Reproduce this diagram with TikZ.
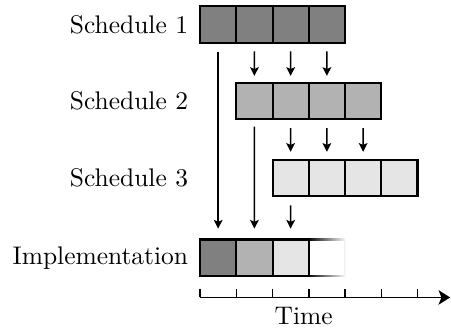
\documentclass[tikz,border=0pt]{standalone}
\usetikzlibrary{arrows.meta,positioning,fadings}

\begin{document}
\begin{tikzpicture}
  [zelle/.style={rectangle, minimum size=5mm, inner sep=0pt, outer sep=0pt, thick, draw=black},
  plan1/.style={zelle, fill=black!50},
  plan2/.style={zelle, fill=black!30},
  plan3/.style={zelle, fill=black!10},
  beschr/.style={anchor=east, xshift=-0.4mm},
  pfeil/.style={semithick, -{Stealth[length=1.2mm, width=1.2mm, inset=0.25mm]}}]
  \useasboundingbox (-2.759,-0.997) rectangle (3.462,3.554);
  % schedule 1
  \node (s1-1) [plan1] at (0.25,3.215) {};
  \node (s1-2) [plan1, right=0pt of s1-1] {};
  \node (s1-3) [plan1, right=0pt of s1-2] {};
  \node (s1-4) [plan1, right=0pt of s1-3] {};
  \node (l1) [beschr] at (s1-1.west) {Schedule 1};
  % schedule 2
  \node (s2-1) [plan2] at (0.75,2.157) {};
  \node (s2-2) [plan2, right=0pt of s2-1] {};
  \node (s2-3) [plan2, right=0pt of s2-2] {};
  \node (s2-4) [plan2, right=0pt of s2-3] {};
  \node (l2) [beschr] at (s1-1.west |- s2-1) {Schedule 2};
  % schedule 3
  \node (s3-1) [plan3] at (1.25,1.10) {};
  \node (s3-2) [plan3, right=0pt of s3-1] {};
  \node (s3-3) [plan3, right=0pt of s3-2] {};
  \node (s3-4) [plan3, right=0pt of s3-3] {};
  \node (l3) [beschr] at (s1-1.west |- s3-1) {Schedule 3};
  % implementation
  \node (imp-1) [plan1] at (0.25,0) {};
  \node (imp-2) [plan2, right=0pt of imp-1] {};
  \node (imp-3) [plan3, right=0pt of imp-2] {};
  \node (imp-4) [zelle, draw=none, right=0pt of imp-3] {};
  \draw [thick, path fading=east] (imp-4.south west) rectangle (imp-4.north east);
  \node (l4) [beschr] at (imp-1.west) {Implementation};
  % arrows
  \draw [pfeil, shorten <=1.3mm, shorten >=1.5mm] (s1-1.south) -- (imp-1.north);
  \draw [pfeil, shorten <=1mm, shorten >=1.5mm] (s2-1.south) -- (imp-2.north);
  \draw [pfeil, shorten <=1.3mm, shorten >=1.5mm] (s3-1.south) -- (imp-3.north);
  \draw [pfeil, shorten <=1.2mm, shorten >=1mm] (s1-2.south) -- (s2-1.north);
  \draw [pfeil, shorten <=1.2mm, shorten >=1mm] (s1-3.south) -- (s2-2.north);
  \draw [pfeil, shorten <=1.2mm, shorten >=1mm] (s1-4.south) -- (s2-3.north);
  \draw [pfeil, shorten <=1.2mm, shorten >=1.1mm] (s2-2.south) -- (s3-1.north);
  \draw [pfeil, shorten <=1.2mm, shorten >=1.1mm] (s2-3.south) -- (s3-2.north);
  \draw [pfeil, shorten <=1.2mm, shorten >=1.1mm] (s2-4.south) -- (s3-3.north);
  % time axis
  \coordinate (t0) at (0,-0.549);
  \coordinate (t1) at (3.45,-0.549);
  \draw [semithick, -{Stealth[length=1.6mm, width=2mm, inset=0.4mm]}] (t0) -- (t1);
  \foreach \x in {0,0.5,...,3}
    \draw [semithick] (\x,-0.549) -- ++(0,0.12);
  \node (zeit) at (1.43,-0.804) {Time};
\end{tikzpicture}
\end{document}
